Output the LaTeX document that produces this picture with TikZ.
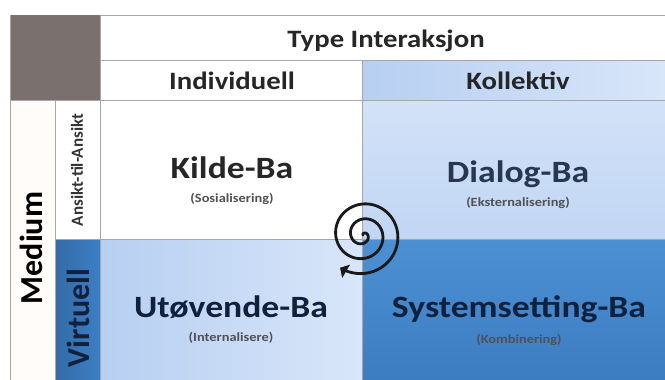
\documentclass[tikz,border=0pt]{standalone}
\usepackage{fontspec}
\setmainfont{Carlito}
\usetikzlibrary{arrows.meta}

\definecolor{gridline}{RGB}{165,165,170}
\definecolor{headgrey}{RGB}{122,112,110}
\definecolor{paleA}{RGB}{183,207,242}
\definecolor{paleB}{RGB}{216,230,249}
\definecolor{midA}{RGB}{193,214,244}
\definecolor{midB}{RGB}{210,226,247}
\definecolor{deepA}{RGB}{76,144,212}
\definecolor{deepB}{RGB}{60,125,192}
\definecolor{sideblue}{RGB}{60,126,196}
\definecolor{navy}{RGB}{15,33,60}
\definecolor{subgrey}{RGB}{80,80,85}

\tikzset{
  gridstroke/.style={draw=gridline, line width=0.7pt},
  title/.style={font=\bfseries\fontsize{31}{32}\selectfont, inner sep=0pt, anchor=base, xscale=1.15},
  subtitle/.style={font=\bfseries\fontsize{12.5}{13}\selectfont, text=subgrey, inner sep=0pt, anchor=center, xscale=1.15},
  header/.style={font=\bfseries\fontsize{25}{26}\selectfont, inner sep=0pt, anchor=base, text=black!85, xscale=1.15},
  sidelabel/.style={font=\bfseries\fontsize{32}{33}\selectfont, inner sep=0pt, anchor=center, rotate=90},
  spiralline/.style={line width=2.8pt, line cap=round, black!90}
}

\begin{document}
\begin{tikzpicture}[x=1pt, y=-1pt]
  \useasboundingbox (0,0) rectangle (665,380);
  \fill[white] (0,0) rectangle (665,380);

  % corner block and header row
  \fill[headgrey] (10,15) rectangle (100,100);
  \fill[white] (100,15) rectangle (665,60);
  \fill[white] (100,60) rectangle (362,100);
  \shade[left color=paleA, right color=paleB] (362,60) rectangle (665,100);

  % left label columns
  \fill[white!98!orange] (10,100) rectangle (55,380);
  \fill[white] (55,100) rectangle (100,239);
  \shade[left color=sideblue!85!black, right color=sideblue] (55,239) rectangle (100,380);

  % body cells
  \fill[white] (100,100) rectangle (362,239);
  \shade[top color=midB, bottom color=midA] (362,100) rectangle (665,239);
  \shade[left color=paleA, right color=paleB] (100,239) rectangle (362,380);
  \shade[top color=deepA, bottom color=deepB] (362,239) rectangle (665,380);

  % grid lines
  \draw[gridstroke] (100,15) -- (665,15);
  \draw[gridstroke] (100,60) -- (665,60);
  \draw[gridstroke] (10,100) -- (665,100);
  \draw[gridstroke] (55,239) -- (665,239);
  \draw[gridstroke] (10,15) -- (10,380);
  \draw[gridstroke] (55,100) -- (55,380);
  \draw[gridstroke] (100,15) -- (100,380);
  \draw[gridstroke] (362,60) -- (362,380);

  % headers
  \node[header] (type) at (386,47) {Type Interaksjon};
  \node[header] (indiv) at (232,89) {Individuell};
  \node[header] (koll) at (518,89) {Kollektiv};

  % side labels
  \node[sidelabel, text=black] (medium) at (31,248) {Medium};
  \node[font=\bfseries\fontsize{17}{18}\selectfont, inner sep=0pt, rotate=90, text=black!80] (ansikt) at (77,170) {Ansikt-til-Ansikt};
  \node[sidelabel, text=navy] (virtuell) at (78,318) {Virtuell};

  % cell titles
  \node[title, text=black!85] (kilde) at (232,178) {Kilde-Ba};
  \node[subtitle] (kildesub) at (232,199) {(Sosialisering)};
  \node[title, text=navy!90] (dialog) at (518,182) {Dialog-Ba};
  \node[subtitle] (dialogsub) at (518,203) {(Eksternalisering)};
  \node[title, text=navy] (utov) at (231,317) {Utøvende-Ba};
  \node[subtitle] (utovsub) at (231,338) {(Internalisere)};
  \node[title, text=navy] (system) at (519,317) {Systemsetting-Ba};
  \node[subtitle] (systemsub) at (519,340) {(Kombinering)};

  % spiral arrow across the four cells
  \draw[spiralline, -{Triangle[length=7pt, width=15pt]}]
    plot[domain=0:960, samples=240, smooth]
    ({363+15*\x/360*cos(\x-835)}, {235+15*\x/360*sin(\x-835)});
\end{tikzpicture}
\end{document}
